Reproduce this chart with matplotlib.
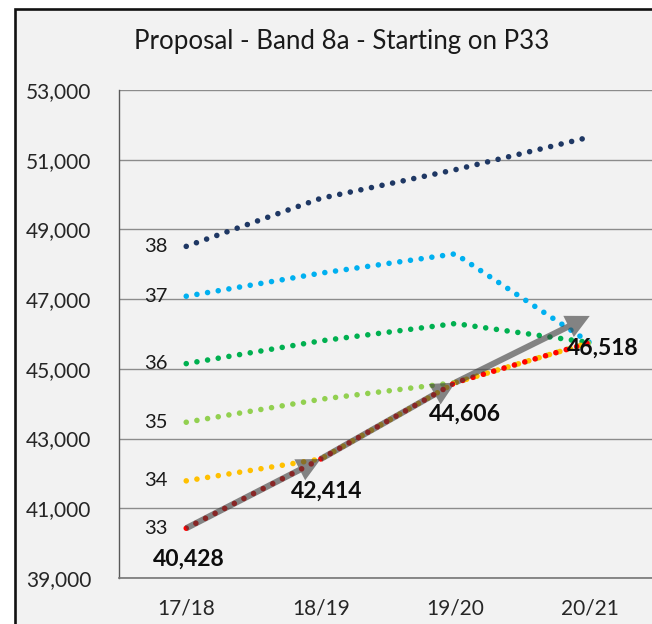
import matplotlib
matplotlib.use('Agg')
import matplotlib.pyplot as plt
from matplotlib.patches import FancyArrowPatch, Rectangle, ArrowStyle
from matplotlib.ticker import FuncFormatter

# ---- data ----
years = ['17/18', '18/19', '19/20', '20/21']
series_names = ['38', '37', '36', '35', '34', '33']
p38 = [48514, 49892, 50713, 51650]
p37 = [47084, 47746, 48300, 45753]
p36 = [45150, 45803, 46300, 45753]
p35 = [43469, 44128, 44606, 45753]
p34 = [41787, 42414, 44606, 45753]
p33 = [40428, 42414, 44606, 45753]
proposal = [40428, 42414, 44606, 46518]
title = 'Proposal - Band 8a - Starting on P33'
yticks = [39000, 41000, 43000, 45000, 47000, 49000, 51000, 53000]

series_values = [p38, p37, p36, p35, p34, p33]
series_colors = ['#1f3864', '#00b0f0', '#00b050', '#92d050', '#ffc000', '#ff0000']

FONT = 'Lato'
plt.rcParams['font.family'] = [FONT, 'DejaVu Sans']

fig = plt.figure(figsize=(6.52, 6.24), dpi=100)
fig.patch.set_facecolor('white')
# outer chart frame (only left/top visible in the crop)
frame = Rectangle((14.5 / 652, -0.05), 1.2, (624 - 8.5) / 624 + 0.05,
                  transform=fig.transFigure, facecolor='#f2f2f2',
                  edgecolor='#111111', linewidth=1.9, zorder=-10)
fig.patches.append(frame)

ax = fig.add_axes([119 / 652, 46 / 624, (657 - 119) / 652, (578 - 90) / 624])
ax.set_zorder(1)
ax.patch.set_alpha(0)
x = list(range(len(years)))
ax.set_xlim(-0.5, len(years) - 0.5)
ax.set_ylim(39000, 53000)
ax.set_yticks(yticks)
ax.yaxis.set_major_formatter(FuncFormatter(lambda v, p: f'{int(v):,}'))
ax.set_xticks(x)
ax.set_xticklabels(years)
ax.tick_params(axis='both', length=0, labelsize=15, colors='#262626')
ax.tick_params(axis='y', pad=20)
ax.tick_params(axis='x', pad=15)
ax.grid(axis='y', color='#8c8c8c', linewidth=1.0, zorder=1)
ax.set_axisbelow(True)
for s in ['top', 'right']:
    ax.spines[s].set_visible(False)
ax.spines['left'].set_color('#595959')
ax.spines['bottom'].set_color('#767676')
ax.spines['left'].set_linewidth(1.0)
ax.spines['bottom'].set_linewidth(1.2)

lw_px = 5.6
lw = lw_px * 72 / 100
for name, vals, col in zip(series_names, series_values, series_colors):
    ax.plot(x, vals, color=col, linewidth=lw, linestyle=(0, (0.001, 1.93)),
            dash_capstyle='round', solid_joinstyle='round', zorder=3)
    ax.annotate(name, (x[0], vals[0]), xytext=(-19, 0), textcoords='offset pixels',
                ha='right', va='center', fontsize=14.5, color='#1a1a1a', zorder=5)

# grey proposal arrows
style = ArrowStyle('simple', head_length=17, head_width=17, tail_width=4.4)
for i in range(len(proposal) - 1):
    arr = FancyArrowPatch((x[i], proposal[i]), (x[i + 1], proposal[i + 1]),
                          arrowstyle=style, mutation_scale=1, shrinkA=0, shrinkB=0,
                          color='#3f3f3f', alpha=0.62, linewidth=0, zorder=4)
    ax.add_patch(arr)

label_offsets = [(3, -31), (6, -32), (10, -32), (13, -32)]
for xi, v, off in zip(x, proposal, label_offsets):
    ax.annotate(f'{v:,}', (xi, v), xytext=off, textcoords='offset pixels',
                ha='center', va='center', fontsize=16.5, fontweight='bold',
                color='#0d0d0d', zorder=6)

fig.text(342 / 652, 1 - 42 / 624, title, ha='center', va='center',
         fontsize=18.6, color='#1a1a1a')

fig.savefig('out.png', dpi=100, facecolor=fig.get_facecolor())
